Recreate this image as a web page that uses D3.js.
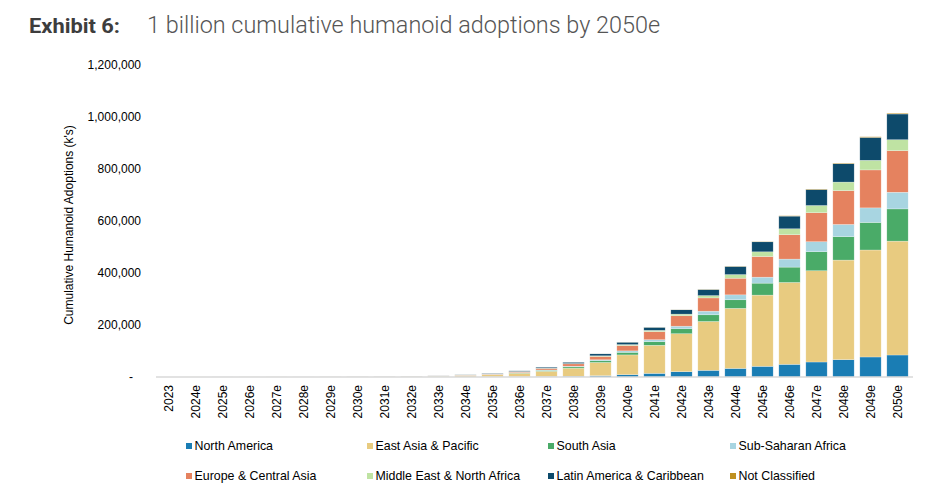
<!DOCTYPE html>
<html>
<head>
<meta charset="utf-8">
<script src="https://cdn.jsdelivr.net/npm/d3@7"></script>
<style>
  body { margin: 0; background: #fff; }
  svg text { font-family: "Liberation Sans", Arial, sans-serif; }
</style>
</head>
<body>
<main></main>
<script>
var w = 948;
var h = 501;

// data (thousands of units, cumulative)
var years = ["2023", "2024e", "2025e", "2026e", "2027e", "2028e", "2029e", "2030e", "2031e", "2032e",
  "2033e", "2034e", "2035e", "2036e", "2037e", "2038e", "2039e", "2040e", "2041e", "2042e",
  "2043e", "2044e", "2045e", "2046e", "2047e", "2048e", "2049e", "2050e"];

var northAmerica = [0.01, 0.01, 0.02, 0.03, 0.04, 0.06, 0.08, 0.1, 0.13, 0.17, 0.3, 0.5, 0.8, 1.3, 2, 3, 5, 9, 14, 20.5, 25.6, 33, 41, 48.7, 57.7, 66.7, 77, 84.6];
var eastAsia = [0.06, 0.12, 0.24, 0.35, 0.47, 0.64, 0.85, 1.1, 1.45, 1.9, 2.9, 5, 7.8, 13, 20, 31, 51, 76, 108, 146, 188, 231, 274, 315, 351, 383, 411.5, 438];
var southAsia = [0.01, 0.02, 0.03, 0.05, 0.06, 0.08, 0.11, 0.15, 0.2, 0.26, 0.4, 0.8, 1.2, 2, 3.5, 5, 6.4, 10, 14, 19, 25.6, 33, 46, 59, 73, 90, 106, 124];
var subSaharan = [0, 0.01, 0.02, 0.02, 0.03, 0.04, 0.06, 0.08, 0.1, 0.13, 0.2, 0.4, 0.6, 1, 1.5, 2.6, 3.8, 5.5, 7.5, 10, 14, 19, 23, 30.8, 38.5, 47, 56, 64];
var europe = [0.01, 0.02, 0.05, 0.08, 0.1, 0.14, 0.19, 0.26, 0.33, 0.43, 0.7, 1.3, 2.1, 3.5, 6, 9, 12.8, 20.5, 31, 40, 51, 64, 79.5, 93.6, 111.5, 130, 146, 160];
var middleEast = [0, 0.01, 0.01, 0.02, 0.03, 0.04, 0.05, 0.06, 0.08, 0.1, 0.15, 0.3, 0.4, 0.7, 1, 1.3, 2.6, 3.8, 5, 6.4, 9, 14, 18, 23, 28, 33, 37, 42];
var latinAmerica = [0.01, 0.01, 0.03, 0.05, 0.07, 0.1, 0.14, 0.18, 0.24, 0.31, 0.5, 0.8, 1.3, 2.2, 3.5, 5, 7.7, 9, 11.5, 16.7, 23, 31, 38.5, 48.7, 61.5, 70.5, 88, 99];
var notClassified = [0, 0, 0, 0, 0, 0, 0, 0, 0, 0, 0, 0, 0, 0, 0, 0.1, 0.2, 0.3, 0.4, 0.6, 0.8, 1, 1.2, 1.5, 1.8, 2, 2.5, 3];

var seriesNames = ["North America", "East Asia & Pacific", "South Asia", "Sub-Saharan Africa",
  "Europe & Central Asia", "Middle East & North Africa", "Latin America & Caribbean", "Not Classified"];
var seriesValues = [northAmerica, eastAsia, southAsia, subSaharan, europe, middleEast, latinAmerica, notClassified];
var colors = ["#1a7db4", "#e8cb80", "#4aab68", "#a8d5e1", "#e5825f", "#bfe3a3", "#0d4a6b", "#bf9020"];

var yTicks = [0, 200000, 400000, 600000, 800000, 1000000, 1200000];

// table for d3.stack
var table = years.map(function (y, i) {
  var row = { year: y };
  seriesNames.forEach(function (s, j) { row[s] = seriesValues[j][i] * 1000; });
  return row;
});

var svg = d3.select("main").append("svg").attr("width", w).attr("height", h);

// title
svg.append("text")
  .attr("x", 29).attr("y", 33)
  .style("font-family", "Roboto, sans-serif")
  .attr("font-weight", "bold")
  .attr("font-size", "21px")
  .attr("fill", "#3d3d3d")
  .attr("textLength", 91)
  .attr("lengthAdjust", "spacingAndGlyphs")
  .text("Exhibit 6:");
svg.append("text")
  .attr("x", 147).attr("y", 33)
  .style("font-family", "Roboto, sans-serif")
  .attr("font-weight", 300)
  .attr("font-size", "23px")
  .attr("fill", "#555")
  .attr("textLength", 513)
  .attr("lengthAdjust", "spacingAndGlyphs")
  .text("1 billion cumulative humanoid adoptions by 2050e");

// scales
var xScale = d3.scaleBand()
  .domain(years)
  .range([155, 911])
  .paddingInner(0.21)
  .paddingOuter(0.105);
var yScale = d3.scaleLinear()
  .domain([0, 1200000])
  .range([377, 65]);

var stack = d3.stack().keys(seriesNames);
var stacked = stack(table);

// bars
svg.selectAll("g.layer")
  .data(stacked)
  .enter()
  .append("g")
  .attr("class", "layer")
  .attr("fill", function (d, i) { return colors[i]; })
  .selectAll("rect")
  .data(function (d) { return d; })
  .enter()
  .append("rect")
  .attr("x", function (d) { return xScale(d.data.year); })
  .attr("width", xScale.bandwidth())
  .attr("y", function (d) { return yScale(d[1]); })
  .attr("height", function (d) { return Math.max(0, yScale(d[0]) - yScale(d[1])); })
  .attr("stroke", "#fff")
  .attr("stroke-width", 0.5)
  .attr("stroke-opacity", 0.5);

// baseline
svg.append("line")
  .attr("x1", 156).attr("x2", 913)
  .attr("y1", yScale(0)).attr("y2", yScale(0))
  .attr("stroke", "#d9d9d9")
  .attr("stroke-width", 1.5);

// y axis
var yAxis = d3.axisLeft(yScale)
  .tickValues(yTicks)
  .tickSize(0)
  .tickPadding(0)
  .tickFormat(function (d) { return d === 0 ? "-" : d3.format(",")(d); });
var gy = svg.append("g")
  .attr("class", "axis y")
  .attr("transform", "translate(141,0)")
  .call(yAxis);
gy.select(".domain").remove();
gy.selectAll("text")
  .attr("font-family", "Liberation Sans, Arial, sans-serif")
  .attr("font-size", "12px")
  .attr("fill", "#000")
  .attr("dx", function (d) { return d === 0 ? -8 : 0; });

// x axis
var xAxis = d3.axisBottom(xScale).tickSize(0).tickPadding(0);
var gx = svg.append("g")
  .attr("class", "axis x")
  .attr("transform", "translate(0,385)")
  .call(xAxis);
gx.select(".domain").remove();
gx.selectAll("text")
  .attr("font-family", "Liberation Sans, Arial, sans-serif")
  .attr("font-size", "12px")
  .attr("fill", "#000")
  .attr("text-anchor", "end")
  .attr("dy", "0.35em")
  .attr("y", 0)
  .attr("x", 0)
  .attr("transform", "rotate(-90)");

// y axis label
svg.append("text")
  .attr("transform", "translate(73,225) rotate(-90)")
  .attr("text-anchor", "middle")
  .attr("font-size", "12px")
  .attr("fill", "#000")
  .text("Cumulative Humanoid Adoptions (k's)");

// legend
var legendX = [186, 367, 548, 730];
var legendY = [446, 476];
var legend = svg.selectAll("g.legend")
  .data(seriesNames)
  .enter()
  .append("g")
  .attr("class", "legend")
  .attr("transform", function (d, i) {
    return "translate(" + legendX[i % 4] + "," + legendY[Math.floor(i / 4)] + ")";
  });
legend.append("rect")
  .attr("x", 0).attr("y", -3)
  .attr("width", 6).attr("height", 6)
  .attr("fill", function (d, i) { return colors[i]; });
legend.append("text")
  .attr("x", 8.5).attr("y", 0)
  .attr("dy", "0.35em")
  .attr("font-size", "12.4px")
  .attr("fill", "#000")
  .text(function (d) { return d; });
</script>
</body>
</html>
